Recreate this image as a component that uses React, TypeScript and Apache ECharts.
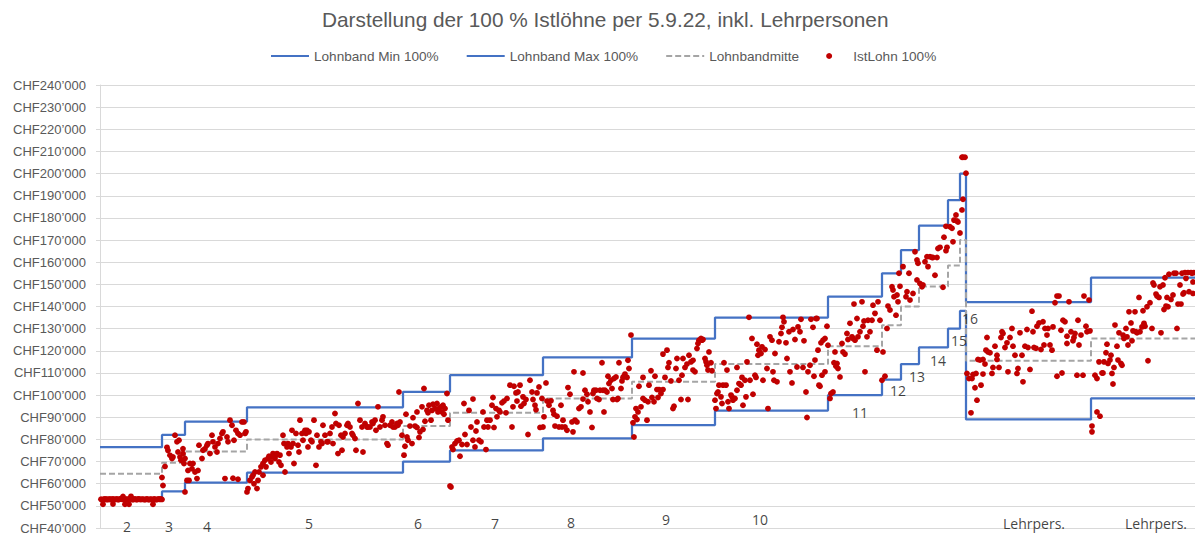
import React, { useEffect, useRef } from "react";
import * as echarts from "echarts";

const TITLE = "Darstellung der 100 % Istlöhne per 5.9.22, inkl. Lehrpersonen";
const NAME_MIN = "Lohnband Min 100%";
const NAME_MAX = "Lohnband Max 100%";
const NAME_MID = "Lohnbandmitte";
const NAME_IST = "IstLohn 100%";

const Y_MIN = 40000;
const Y_MAX = 240000;
const Y_STEP = 10000;
const X_MAX = 1095; // employee position along the sorted list

// Band boundaries (employee position where each Lohnband starts) and band values in kCHF
const bandStarts = [0, 62, 85, 147, 303, 350, 443, 532, 615, 728, 782, 801, 819, 848, 860, 866, 991, 1095];
const bandMinK = [52.9, 56.5, 60.5, 65, 70, 75, 80.5, 86.5, 93, 100, 107, 114, 121.5, 130, 138, 89, 98.5, 98.5];
const bandMaxK = [76.5, 82, 88, 94.5, 101.5, 109, 117, 125.5, 135, 144.5, 155, 165.5, 176.5, 188, 200, 142, 153, 153];
const bandMidK = [64.5, 69.5, 74.5, 80, 86, 92, 98.5, 106, 114, 122, 131.5, 140, 149, 158.5, 170, 115.5, 125.5, 125.5];

// Band labels: [position, kCHF, text]
const bandLabels: [number, number, string][] = [
  [27, 40.5, "2"], [69, 40.5, "3"], [107, 40.5, "4"], [209, 42, "5"], [318, 42.2, "6"],
  [395, 42.2, "7"], [471, 42.4, "8"], [566, 43.8, "9"], [660, 43.8, "10"], [760, 92.2, "11"],
  [798, 102.2, "12"], [817, 108.5, "13"], [838, 115.8, "14"], [859, 124.8, "15"], [870, 134.4, "16"],
  [934, 42, "Lehrpers."], [1056, 42, "Lehrpers."],
];

// IstLohn 100%: [position, kCHF]
const istBand2: [number, number][] = [
  [1, 53], [2, 52.8], [3, 50.7], [4, 53.1], [5, 52.9], [6, 53.1], [7, 52.8], [8, 53], [9, 52.9], [10, 53.1],
  [11, 52.8], [12, 53], [13, 50.8], [13, 53.1], [14, 52.9], [15, 52.9], [16, 53], [17, 53.1], [18, 52.8], [19, 52.9],
  [20, 53.1], [21, 53.2], [22, 53], [23, 54.2], [24, 52.8], [25, 50.7], [26, 53], [27, 53], [28, 52.9], [29, 50.7],
  [30, 53.2], [31, 54.3], [32, 52.9], [33, 52.8], [34, 53], [35, 53.1], [36, 52.9], [37, 52.8], [38, 53.1], [39, 53.1],
  [40, 52.9], [41, 52.9], [42, 53], [43, 53], [44, 52.9], [45, 52.8], [46, 53], [47, 53.1], [48, 52.9], [49, 52.8],
  [50, 53], [51, 53], [52, 52.9], [53, 50.7], [54, 53.1], [55, 53], [56, 52.8], [57, 52.9], [58, 53], [59, 53.1],
  [60, 52.9], [61, 53.1], [62, 52.9],
];
const istBand3to4: [number, number][] = [
  [62, 62.8], [63, 59.2], [65, 67.8], [67, 76.4], [68, 75], [70, 72.8], [72, 71.4], [73, 72.1], [75, 81.9], [77, 78.9],
  [78, 74.3], [79, 79.6], [80, 72.1], [81, 70.6], [83, 75.8], [83, 73.6], [84, 69.1], [85, 71.4],
  [85, 56.3], [87, 61.5], [89, 61.5], [88, 66], [90, 69.1], [92, 66.8], [93, 69.1], [95, 65.3], [97, 62.3], [98, 66],
  [99, 77.4], [102, 71.4], [103, 75.1], [105, 75.8], [107, 77.4], [108, 78.1], [110, 73.6], [112, 81.9], [113, 78.9],
  [115, 76.6], [117, 74.3], [118, 78.1], [120, 80.4], [122, 82.7], [123, 83.4], [125, 62.3], [127, 81.1], [128, 78.9],
  [130, 88.7], [132, 86.4], [133, 62.5], [134, 79.6], [136, 84.1], [138, 62], [138, 82.7], [140, 81.9], [142, 87.9],
  [144, 87.9], [145, 82.7], [146, 83.4],
];
const istBand5: [number, number][] = [
  [147, 56.3], [148, 57.8], [150, 61.5], [152, 63], [153, 63.8], [154, 60], [155, 65.3], [157, 57.8], [158, 61.5],
  [159, 65.3], [161, 67.6], [163, 63.8], [163, 69.1], [165, 70.6], [166, 67.6], [168, 71.4], [169, 72.4], [171, 69.8],
  [172, 72.1], [173, 73.6], [175, 71.4], [176, 72.9], [177, 73.6], [179, 69.8], [180, 72.9], [181, 68.3], [183, 81.9],
  [184, 78.1], [185, 65.3], [187, 76.6], [188, 78.1], [189, 73.6], [191, 76.6], [192, 84.1], [193, 78.1], [194, 69.1],
  [196, 82.7], [198, 77.4], [199, 74.3], [200, 88.7], [202, 82.7], [203, 79.6], [205, 84.1], [206, 82.7], [207, 84.1],
  [208, 76.6], [209, 83.4], [211, 79.6], [212, 78.9], [214, 88.7], [216, 68.3], [217, 81.9], [219, 76.6], [221, 78.9],
  [222, 78.1], [223, 86.4], [225, 81.9], [227, 78.9], [228, 78.9], [230, 82.7], [232, 85.6], [233, 78.1], [235, 91.7],
  [236, 87.2], [238, 73.6], [239, 86.4], [241, 81.9], [242, 75.1], [243, 81.1], [245, 82.7], [247, 86.4], [248, 87.2],
  [250, 85.6], [252, 82.7], [253, 81.9], [255, 80.4], [256, 75.1], [258, 96.2], [260, 88.7], [262, 85.6], [263, 74.3],
  [265, 87.2], [267, 85.6], [268, 85.6], [270, 85.6], [272, 87.9], [273, 87.2], [275, 88.7], [276, 84.1], [278, 94.7],
  [280, 85.6], [282, 88.7], [283, 90.2], [285, 86.4], [287, 78.1], [288, 77.4], [290, 86.4], [292, 87.9], [293, 85.6],
  [295, 85.6], [297, 87.2], [298, 86.4], [299, 101.4], [300, 87.9], [302, 81.9],
];
const istBand6to7: [number, number][] = [
  [304, 72.9], [305, 76.9], [306, 91.4], [307, 81.1], [308, 79.6], [310, 86], [312, 78.1], [313, 89.8], [315, 86],
  [317, 85.4], [317, 92.4], [319, 80.9], [320, 83.4], [322, 94.7], [323, 84.5], [324, 103], [325, 88.2], [327, 93.1],
  [328, 92], [329, 95.4], [331, 88.7], [332, 93.1], [333, 95.9], [335, 93.9], [337, 96.2], [338, 92.4], [339, 93.9],
  [341, 94.7], [342, 92.4], [343, 95.4], [344, 91.4], [345, 93.9], [347, 100.7], [348, 88.7], [350, 59], [351, 58.5],
  [352, 76.6], [353, 75.4], [355, 78.1], [357, 79.3], [359, 79.6], [360, 72.4], [362, 77.7], [364, 96.2], [365, 82.2],
  [367, 77.7], [369, 93.1], [371, 85.6], [373, 98.2], [373, 79.6], [375, 76.6], [376, 83.8], [377, 87.9], [379, 79.6],
  [381, 78.9], [383, 92.4], [384, 85.6], [386, 75.4], [387, 88.7], [388, 85.6], [390, 88.7], [392, 95.4], [393, 98.9],
  [394, 85.4], [396, 93.9], [397, 90.2], [399, 93.1], [400, 92.4], [402, 96.5], [404, 97.3], [406, 92], [407, 98.5],
  [410, 104.5], [412, 85.6], [413, 94.7], [414, 104], [416, 101], [417, 97.3], [418, 101.4], [420, 104.5], [421, 95],
  [423, 99.2], [424, 96.2], [426, 98], [428, 82.2], [430, 106.7], [432, 101.4], [433, 98], [435, 95.4], [436, 93.4],
  [437, 101], [439, 103.7], [440, 85.4], [442, 98.5],
];
const istBand8: [number, number][] = [
  [443, 85.6], [444, 90.2], [446, 105.5], [447, 97.3], [449, 95.4], [451, 97.4], [453, 93.1], [454, 91.4], [455, 86],
  [457, 90.5], [459, 85.6], [461, 95.4], [462, 85.6], [463, 88.7], [465, 85.6], [467, 84.1], [468, 103.4], [470, 100.4],
  [472, 87.9], [473, 83.4], [474, 110.5], [475, 88.7], [477, 87.9], [479, 93.9], [481, 94.7], [483, 98.2], [483, 110],
  [485, 102.2], [487, 100.4], [488, 97], [490, 92.4], [492, 85.4], [493, 100.7], [494, 102.2], [496, 102.2], [497, 98.5],
  [499, 98], [500, 102.2], [502, 114.6], [503, 102.2], [504, 92.4], [505, 102.2], [507, 101.4], [508, 108.5], [509, 105.2],
  [511, 106.7], [512, 103], [513, 98], [514, 107.5], [516, 108.2], [517, 98], [518, 98.5], [519, 114.6], [521, 103],
  [522, 106.4], [523, 108], [524, 108.5], [525, 109.5], [527, 108], [528, 115.7], [529, 112], [531, 127.1],
];
const istBand9: [number, number][] = [
  [533, 87.5], [534, 81.1], [535, 90.2], [536, 93.9], [537, 89], [538, 92.4], [539, 104], [541, 94.7], [543, 98.5],
  [543, 108], [545, 97.7], [547, 88.7], [548, 97], [549, 104.5], [551, 111], [552, 98.9], [554, 97], [555, 108.5],
  [557, 102.5], [558, 98.9], [559, 102.5], [561, 100.7], [563, 102.5], [563, 118.5], [565, 108], [567, 120.3],
  [568, 112.5], [569, 114.6], [571, 106.4], [573, 93.9], [574, 95], [576, 112], [577, 116.5], [579, 106.7], [581, 98],
  [582, 109], [583, 116.5], [585, 112.5], [587, 114], [588, 98], [589, 118], [591, 115], [593, 111.3], [593, 115.7],
  [595, 110.5], [597, 121], [598, 123.3], [599, 124.8], [601, 125.6], [602, 124.8], [603, 125.1], [605, 116.5],
  [606, 115], [607, 113.5], [608, 111.3], [609, 119.5], [611, 114.6], [612, 111],
];
const istBand10: [number, number][] = [
  [615, 97.7], [616, 93.9], [617, 100.7], [618, 101.4], [619, 104.5], [621, 99.2], [622, 96.2], [623, 104.5],
  [624, 114.6], [626, 104.5], [627, 111.3], [628, 97], [629, 93.9], [631, 100], [632, 99.2], [633, 97.7], [635, 98.5],
  [637, 102.2], [637, 112.5], [639, 105.2], [641, 104.5], [642, 108], [643, 95.4], [645, 106.7], [646, 99.2], [647, 115],
  [649, 135.1], [650, 106.7], [652, 125.6], [653, 100.4], [655, 109], [656, 108], [657, 123], [658, 118], [659, 120.3],
  [661, 118.8], [662, 121.8], [663, 106.7], [665, 120.6], [667, 112], [668, 93.9], [670, 126.3], [672, 124.8],
  [673, 110.5], [674, 106.7], [675, 118.8], [677, 106], [679, 124.1], [681, 127.8], [682, 130.6], [683, 135.1],
  [684, 133.1], [686, 123.6], [687, 116.5], [689, 128.6], [690, 110.5], [692, 105.5], [693, 129.6], [695, 125.1],
  [697, 112.7], [698, 130.8], [700, 128.6], [701, 134.2], [703, 112.5], [704, 124.5], [706, 101.4], [707, 89.9],
  [708, 110.5], [710, 113.5], [711, 134.2], [713, 130.6], [714, 108.5], [715, 115.8], [716, 134.6], [717, 134.6],
  [718, 120.3], [719, 104.5], [720, 104], [721, 123.6], [722, 109], [723, 124.8], [725, 125.6], [725, 110.5], [727, 131.1],
];
const istBand11to16: [number, number][] = [
  [728, 122.5], [730, 98.5], [731, 100.7], [733, 101.4], [734, 114.6], [735, 119.5], [736, 113], [737, 114.3], [738, 112],
  [740, 108.2], [742, 123.3], [743, 119.5], [745, 118.5], [747, 127.8], [748, 125.1], [750, 132.4], [752, 126.3],
  [753, 125.6], [754, 141.1], [755, 124.8], [757, 134.6], [758, 126.3], [760, 128.6], [762, 142.1], [763, 131.1],
  [764, 133.5], [765, 110.5], [767, 126.3], [768, 133.8], [770, 128.6], [772, 133.8], [773, 140.6], [775, 136.9],
  [777, 120.3], [778, 142.1], [780, 133.8], [782, 106.7],
  [783, 119.5], [785, 108.5], [787, 130.1], [788, 140.2], [790, 138.4], [792, 148.9], [793, 147.4], [794, 144.4],
  [796, 136.1], [797, 145.2], [798, 142.1], [799, 155], [800, 149.1],
  [803, 158], [806, 144.4], [807, 146.7], [809, 155], [810, 142.9], [813, 145.9], [815, 164.7], [817, 152], [817, 161],
  [818, 159.5],
  [820, 150.4], [822, 148.9], [823, 149.7], [825, 160.2], [827, 162.5], [828, 158], [830, 162.5], [832, 162.1],
  [833, 162.1], [835, 154.1], [837, 162.1], [838, 166.2], [840, 166.7], [843, 148.7], [844, 171.3], [846, 165.2],
  [847, 166.7], [846, 176.2],
  [850, 176], [852, 175.3], [853, 169.2], [854, 179], [856, 181.3], [857, 178.6], [858, 178.1], [860, 173.2],
  [862, 207.4], [863, 207.4], [865, 207.4], [866, 200.2], [863, 188.4], [862, 183.6],
];
const istLehr1: [number, number][] = [
  [867, 109.8], [869, 107.5], [871, 92], [872, 107.5], [873, 109.3], [875, 103.3], [876, 109.8], [877, 97.7], [878, 116.1],
  [880, 115.8], [881, 104.5], [883, 116.1], [883, 109.5], [885, 114], [886, 120.3], [887, 126], [888, 119.5], [890, 119.1],
  [892, 109.8], [893, 112.5], [895, 122.1], [897, 116.1], [897, 118], [899, 112.5], [901, 126], [902, 128.6], [903, 127.8],
  [905, 121.5], [907, 123.6], [908, 110.5], [910, 126], [912, 130.1], [913, 122.1], [915, 118], [917, 109.8], [918, 112],
  [920, 128.1], [922, 118], [923, 106], [925, 122.1], [927, 129.6], [928, 121.5], [930, 111.6], [932, 137.9], [933, 128.6],
  [934, 121.5], [936, 121.1], [937, 131.1], [939, 132.6], [941, 120.6], [943, 133.1], [944, 122.6], [945, 130.1],
  [947, 127.1], [948, 130.1], [950, 122.6], [952, 120.3], [953, 130.8], [955, 141.7], [957, 144.7], [957, 108.5],
  [959, 144.7], [961, 129.3], [962, 110], [963, 133.8], [965, 133.1], [967, 126.6], [967, 123.3], [969, 142.1],
  [971, 128.6], [973, 124.5], [974, 126], [975, 127.8], [977, 109], [978, 133.8], [979, 122.6], [981, 127.1], [983, 109],
  [984, 144.7], [986, 131.1], [987, 128.6], [989, 142.9], [990, 129],
];
const istLehr2: [number, number][] = [
  [992, 86], [992, 83.4], [995, 109], [997, 107.5], [997, 92.4], [1000, 90.5], [999, 115], [1002, 110], [1003, 110],
  [1004, 115], [1006, 119.1], [1007, 123], [1008, 114.3], [1010, 115.8], [1011, 118], [1012, 109.8], [1013, 105],
  [1014, 112.5], [1015, 131.6], [1017, 122.1], [1018, 115.8], [1019, 128.1], [1021, 114.3], [1022, 113.5], [1023, 127.1],
  [1024, 125.6], [1026, 130.1], [1027, 126.3], [1028, 122.6], [1029, 137.6], [1031, 132.6], [1032, 124.5], [1033, 129],
  [1035, 137.6], [1036, 128.6], [1037, 128.1], [1039, 144.1], [1040, 128.6], [1042, 130.8], [1043, 138.1], [1044, 132.4],
  [1045, 131.1], [1047, 139.9], [1048, 115.5], [1050, 141.7], [1052, 130.1], [1053, 150.6], [1054, 149.7], [1056, 145.6],
  [1057, 144.7], [1059, 144.1], [1060, 148.9], [1061, 128.1], [1063, 149.7], [1064, 138.6], [1065, 153], [1066, 140.2],
  [1067, 144.1], [1068, 139.9], [1069, 154.6], [1071, 143.2], [1073, 145.2], [1074, 155], [1076, 155], [1077, 130.1],
  [1078, 141.1], [1080, 149.7], [1081, 141.1], [1082, 155], [1083, 145.6], [1084, 146.2], [1085, 155.3], [1086, 152.7],
  [1088, 155.3], [1089, 146.7], [1091, 155.3], [1092, 155], [1093, 145.9], [1094, 155.3], [1093, 151.1],
];

const istLohnK: [number, number][] = [
  ...istBand2, ...istBand3to4, ...istBand5, ...istBand6to7, ...istBand8,
  ...istBand9, ...istBand10, ...istBand11to16, ...istLehr1, ...istLehr2,
];

const FONT = "'Liberation Sans', Arial, sans-serif";
const LABEL_FONT = "'Open Sans', 'Noto Sans', sans-serif";
const GREY_TEXT = "#595959";
const BLUE = "#4472C4";
const GREY_LINE = "#A5A5A5";
const RED = "#C00000";
const HIDDEN = "rgba(0,0,0,0)";

function chf(v: number): string {
  return "CHF" + String(Math.round(v)).replace(/\B(?=(\d{3})+(?!\d))/g, "\u2019");
}

function stepData(values: number[]) {
  return bandStarts.map((x, i) => [x, values[i] * 1000]);
}

export default function App() {
  const ref = useRef<HTMLDivElement | null>(null);

  useEffect(() => {
    if (!ref.current) return;
    const chart = echarts.init(ref.current, undefined, { renderer: "svg" });
    const lineBase = {
      type: "line",
      step: "end",
      symbol: "none",
      showSymbol: false,
      silent: true,
      z: 2,
    };
    const lineLegendItem = (name: string) => ({
      name,
      itemStyle: { color: HIDDEN, borderColor: HIDDEN, borderWidth: 0 },
    });
    chart.setOption({
      animation: false,
      backgroundColor: "#ffffff",
      title: {
        text: TITLE,
        left: 322,
        top: 9,
        padding: 0,
        textStyle: { fontFamily: FONT, fontSize: 20.8, fontWeight: "normal", color: GREY_TEXT },
      },
      legend: {
        top: 49,
        left: 270,
        itemWidth: 38,
        itemHeight: 6,
        itemGap: 27,
        padding: 0,
        textStyle: { fontFamily: FONT, fontSize: 13.6, color: GREY_TEXT },
        data: [
          lineLegendItem(NAME_MIN),
          lineLegendItem(NAME_MAX),
          lineLegendItem(NAME_MID),
          { name: NAME_IST, icon: "circle", itemStyle: { color: RED, opacity: 1 } },
        ],
      },
      grid: { left: 100, right: 0, top: 85, bottom: 10, containLabel: false },
      xAxis: { type: "value", min: 0, max: X_MAX, show: false },
      yAxis: {
        type: "value",
        min: Y_MIN,
        max: Y_MAX,
        interval: Y_STEP,
        axisLine: { show: true, lineStyle: { color: "#D9D9D9", width: 1 } },
        axisTick: { show: true, length: 4, lineStyle: { color: "#D9D9D9" } },
        splitLine: { show: true, lineStyle: { color: "#D9D9D9", width: 1 } },
        axisLabel: { formatter: chf, color: GREY_TEXT, fontFamily: FONT, fontSize: 13, margin: 14 },
      },
      series: [
        { ...lineBase, name: NAME_MIN, data: stepData(bandMinK), lineStyle: { color: BLUE, width: 2.25 }, itemStyle: { color: BLUE } },
        { ...lineBase, name: NAME_MAX, data: stepData(bandMaxK), lineStyle: { color: BLUE, width: 2.25 }, itemStyle: { color: BLUE } },
        { ...lineBase, name: NAME_MID, data: stepData(bandMidK), lineStyle: { color: GREY_LINE, width: 2, type: [6, 3] }, itemStyle: { color: GREY_LINE } },
        {
          type: "scatter",
          name: "labels",
          silent: true,
          z: 4,
          symbol: "circle",
          symbolSize: 1,
          itemStyle: { color: HIDDEN },
          label: {
            show: true,
            position: "inside",
            formatter: "{b}",
            color: "#111111",
            fontFamily: LABEL_FONT,
            fontSize: 14,
          },
          data: bandLabels.map(([x, k, t]) => ({ name: t, value: [x, k * 1000] })),
        },
        {
          type: "scatter",
          name: NAME_IST,
          z: 5,
          symbol: "circle",
          symbolSize: 5.8,
          itemStyle: { color: RED, opacity: 1 },
          data: istLohnK.map(([x, k]) => [x, k * 1000]),
        },
      ],
    });
    return () => chart.dispose();
  }, []);

  return (
    <div
      ref={ref}
      style={{ position: "absolute", left: 0, top: 0, width: 1195, height: 538, background: "#fff" }}
    />
  );
}
